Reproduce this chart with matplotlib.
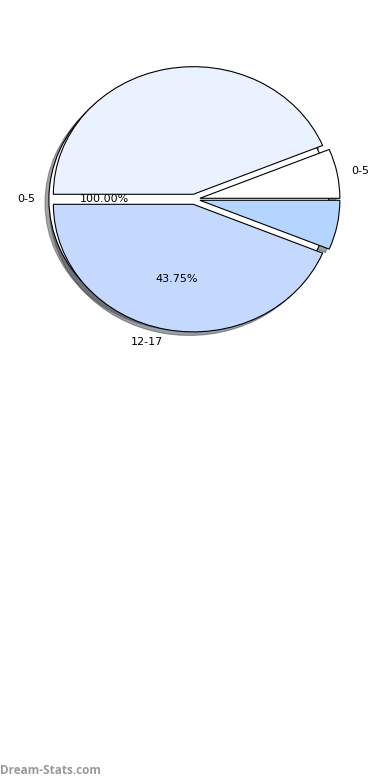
import matplotlib
matplotlib.use("Agg")
import matplotlib.pyplot as plt

# ---- data ----
outer_labels = ["0-5"]
outer_values = [1]
outer_colors = ["#FFFFFF"]

inner_labels = ["0-5", "", "12-17", ""]
inner_values = [1, 7, 7, 1]
inner_colors = ["#FFFFFF", "#EBF2FF", "#C5D9FF", "#B4D5FF"]
inner_pct_shown = [False, False, True, False]

EXPLODE = 0.04


def make_autopct(shown):
    idx = {"i": 0}

    def fmt(p):
        i = idx["i"]
        idx["i"] += 1
        return f"{p:.2f}%" if shown[i] else ""
    return fmt


fig = plt.figure(figsize=(3.9, 7.8), dpi=100)
ax = fig.add_axes([0.05, 0.540, 0.897, 0.409])

wedge_kw = dict(edgecolor="black", linewidth=0.8)
text_kw = dict(fontsize=8, color="black")

ax.pie(outer_values, labels=outer_labels, colors=outer_colors,
       explode=[EXPLODE] * len(outer_values), autopct="%1.2f%%",
       shadow=True, wedgeprops=wedge_kw, textprops=text_kw)
ax.pie(inner_values, labels=inner_labels, colors=inner_colors,
       explode=[EXPLODE] * len(inner_values),
       autopct=make_autopct(inner_pct_shown),
       shadow=True, wedgeprops=wedge_kw, textprops=text_kw)
ax.set_aspect("auto")
ax.set_xlim(-1.25, 1.25)
ax.set_ylim(-1.25, 1.25)

fig.text(0.0, 0.0125, "Dream-Stats.com", fontsize=8.5, fontweight="bold",
         color="#9a9a9a", ha="left", va="center", family=["Open Sans", "DejaVu Sans"])

fig.savefig("out.png", dpi=100)
